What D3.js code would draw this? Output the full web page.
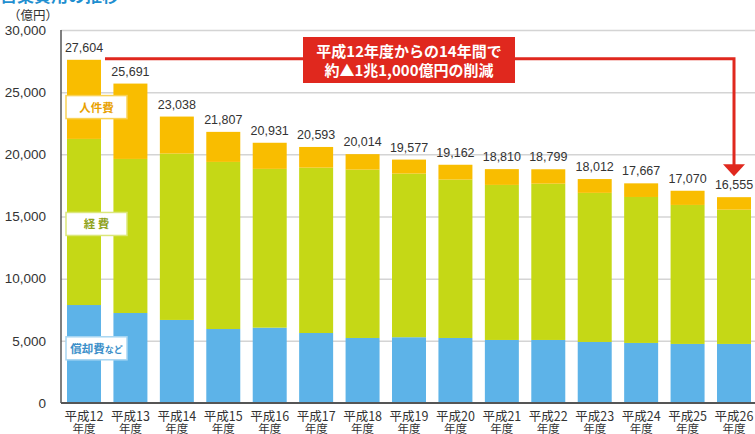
<!DOCTYPE html>
<html>
<head>
<meta charset="utf-8">
<script src="https://cdn.jsdelivr.net/npm/d3@7/dist/d3.min.js"></script>
<style>
  body { margin: 0; background: #fff; }
  svg { font-family: "Noto Sans CJK JP", "Noto Sans", sans-serif; }
  .grid line { stroke: #d4d4d4; stroke-width: 1.5; }
  .grid .domain { display: none; }
  .yaxis text { font-size: 13.5px; fill: #333; font-family: "Liberation Sans", Arial, sans-serif; }
  .yaxis line, .yaxis .domain { display: none; }
</style>
</head>
<body>
<div id="chart"></div>
<script>
// years (x categories)
var years = ["平成12", "平成13", "平成14", "平成15", "平成16", "平成17", "平成18", "平成19",
             "平成20", "平成21", "平成22", "平成23", "平成24", "平成25", "平成26"];

// stacked series, bottom to top (億円)
var depreciation = [7880, 7240, 6680, 5950, 6060, 5630, 5230, 5290, 5230, 5070, 5070, 4910, 4830, 4750, 4750];
var expenses     = [13360, 12390, 13380, 13440, 12770, 13300, 13540, 13160, 12740, 12470, 12570, 11990, 11740, 11180, 10800];
var personnel    = [6364, 6061, 2978, 2417, 2101, 1663, 1244, 1127, 1192, 1270, 1159, 1112, 1097, 1140, 1005];
var totals       = [27604, 25691, 23038, 21807, 20931, 20593, 20014, 19577, 19162, 18810, 18799, 18012, 17667, 17070, 16555];

var yTicks = [0, 5000, 10000, 15000, 20000, 25000, 30000];

var seriesNames = ["償却費など", "経 費", "人件費"];
var colors = ["#5db3e8", "#c5d816", "#f9bd00"];

var W = 755, H = 434;
var margin = {top: 30, right: 0, bottom: 31, left: 61};
var width = W - margin.left - margin.right,
    height = H - margin.top - margin.bottom;

var svg = d3.select("#chart").append("svg")
    .attr("width", W)
    .attr("height", H);

var g = svg.append("g")
    .attr("transform", "translate(" + margin.left + "," + margin.top + ")");

var x = d3.scaleBand()
    .domain(years)
    .range([6, 690])
    .paddingInner(0.268)
    .paddingOuter(0);

var y = d3.scaleLinear()
    .domain([0, 30000])
    .range([height, 0]);

// grid
g.append("g")
    .attr("class", "grid")
    .call(d3.axisLeft(y).tickValues(yTicks.slice(1)).tickSize(-width).tickFormat(""));

// y labels
g.append("g")
    .attr("class", "yaxis")
    .attr("transform", "translate(-12,0)")
    .call(d3.axisLeft(y).tickValues(yTicks).tickSize(0).tickFormat(d3.format(",")));

svg.append("text")
    .attr("x", 8).attr("y", 20)
    .attr("font-size", 12.5).attr("fill", "#333")
    .text("（億円）");

// clipped title at very top
svg.append("text")
    .attr("x", 0).attr("y", 2)
    .attr("font-size", 17).attr("font-weight", "bold").attr("fill", "#1f8fd0")
    .text("営業費用の推移");

// stacked bars
var rows = years.map(function(d, i) {
  return {year: d, dep: depreciation[i], exp: expenses[i], per: personnel[i]};
});
var stack = d3.stack().keys(["dep", "exp", "per"]);
var layers = stack(rows);

g.selectAll(".layer")
    .data(layers)
    .enter().append("g")
    .attr("class", "layer")
    .attr("fill", function(d, i) { return colors[i]; })
    .selectAll("rect")
    .data(function(d) { return d; })
    .enter().append("rect")
    .attr("x", function(d) { return x(d.data.year); })
    .attr("y", function(d) { return y(d[1]); })
    .attr("height", function(d) { return y(d[0]) - y(d[1]); })
    .attr("width", x.bandwidth());

// total labels
g.selectAll(".total")
    .data(totals)
    .enter().append("text")
    .attr("class", "total")
    .attr("x", function(d, i) { return x(years[i]) + x.bandwidth() / 2; })
    .attr("y", function(d) { return y(d) - 8; })
    .attr("text-anchor", "middle")
    .attr("font-size", 12.5)
    .attr("fill", "#333")
    .attr("font-family", "Liberation Sans, Arial, sans-serif")
    .text(d3.format(","));

// axes lines
g.append("line")
    .attr("x1", 0).attr("x2", 0).attr("y1", 0).attr("y2", height)
    .attr("stroke", "#555").attr("stroke-width", 1.5);
g.append("line")
    .attr("x1", 0).attr("x2", width).attr("y1", height).attr("y2", height)
    .attr("stroke", "#555").attr("stroke-width", 2);

// x labels
var xl = g.selectAll(".xlab")
    .data(years)
    .enter().append("text")
    .attr("class", "xlab")
    .attr("text-anchor", "middle")
    .attr("fill", "#333")
    .attr("font-size", 12.5)
    .attr("transform", function(d) { return "translate(" + (x(d) + x.bandwidth() / 2) + "," + (height + 18) + ")"; });
xl.append("tspan").attr("x", 0).attr("y", 0).text(function(d) { return d; });
xl.append("tspan").attr("x", 0).attr("y", 12).attr("font-size", 11.5).text("年度");

// legend boxes on first bar
var legendBoxes = [
  {name: "人件費", val: 23800, border: "#f9d257", text: "#e8a100"},
  {name: "経 費", val: 14400, border: "#dbe77a", text: "#8fa21a"},
  {name: "償却費", val: 4400, border: "#a8d6f2", text: "#3b8fc9"}
];
var lb = g.selectAll(".lbox")
    .data(legendBoxes)
    .enter().append("g")
    .attr("transform", function(d) { return "translate(5," + (y(d.val) - 11.5) + ")"; });
lb.append("rect")
    .attr("width", 61).attr("height", 23)
    .attr("fill", "#fff")
    .attr("stroke", function(d) { return d.border; })
    .attr("stroke-width", 1.5);
var lt = lb.append("text")
    .attr("x", 30.5).attr("y", 16)
    .attr("text-anchor", "middle")
    .attr("font-size", 11.5)
    .attr("font-weight", "bold")
    .attr("fill", function(d) { return d.text; })
    .text(function(d) { return d.name; });
lt.filter(function(d) { return d.name === "償却費"; })
    .append("tspan").attr("font-size", 9).text("など");

// red annotation
var red = "#e0281e";
var lineY = y(totals[0]) - 1;
var xEnd = x(years[years.length - 1]) + x.bandwidth() / 2;
var arrowTip = y(totals[totals.length - 1]) - 21;
g.append("path")
    .attr("d", "M" + (x(years[0]) + x.bandwidth() + 4) + "," + lineY + "H" + xEnd + "V" + (arrowTip - 10))
    .attr("fill", "none")
    .attr("stroke", red)
    .attr("stroke-width", 3);
g.append("path")
    .attr("d", "M" + (xEnd - 11) + "," + (arrowTip - 12) + "L" + (xEnd + 11) + "," + (arrowTip - 12) + "L" + xEnd + "," + arrowTip + "Z")
    .attr("fill", red);

var boxX = 303 - margin.left, boxY = 37 - margin.top;
g.append("rect")
    .attr("x", boxX).attr("y", boxY)
    .attr("width", 212).attr("height", 46)
    .attr("fill", red);
var bt = g.append("text")
    .attr("text-anchor", "middle")
    .attr("fill", "#fff")
    .attr("font-size", 15)
    .attr("font-weight", "bold");
bt.append("tspan").attr("x", boxX + 106).attr("y", boxY + 20).text("平成12年度からの14年間で");
bt.append("tspan").attr("x", boxX + 106).attr("y", boxY + 39).text("約▲1兆1,000億円の削減");
</script>
</body>
</html>
